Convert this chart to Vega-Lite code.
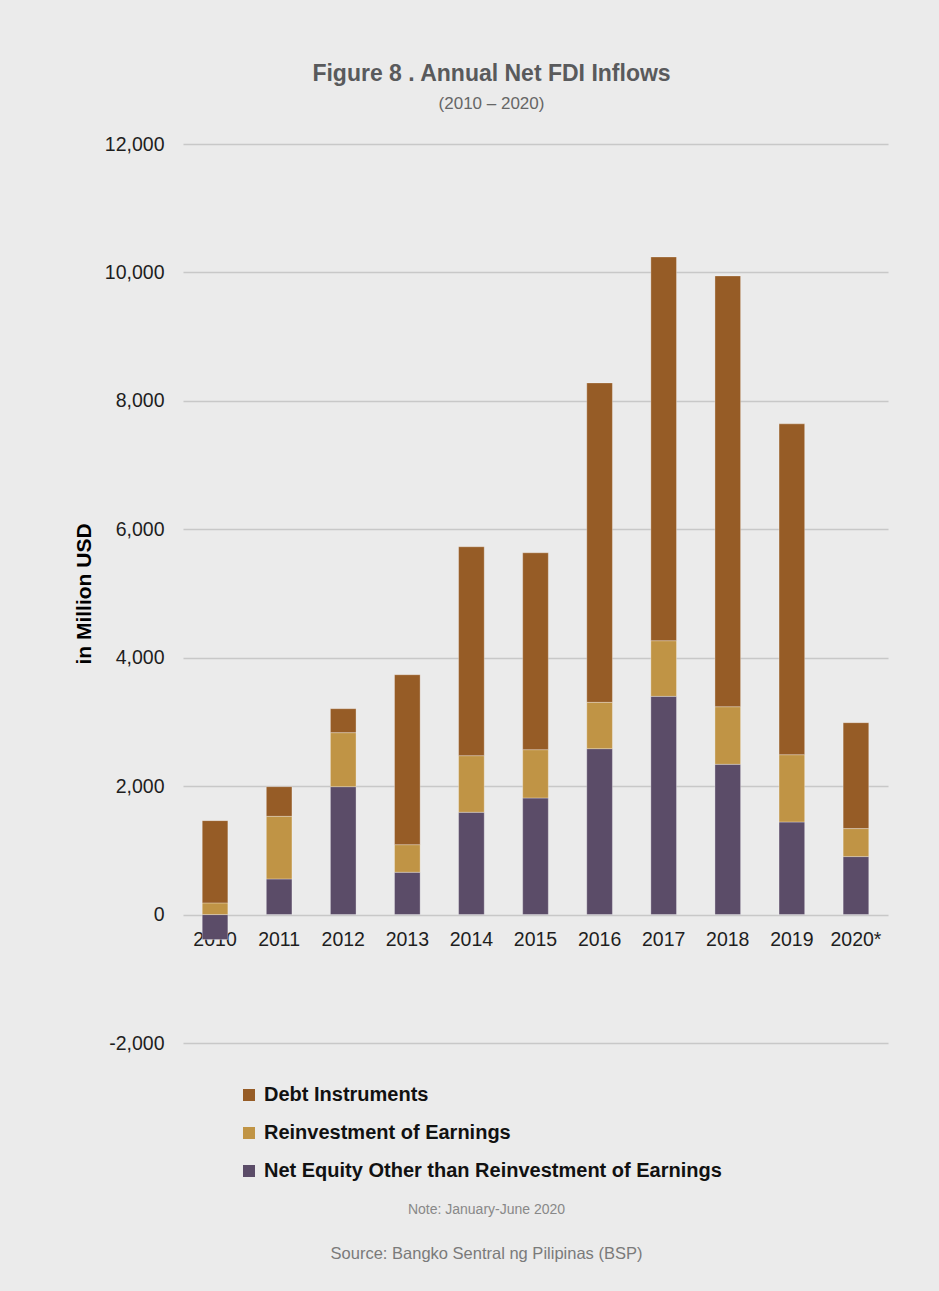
{
  "$schema": "https://vega.github.io/schema/vega-lite/v6.json",
  "background": "#ebebeb",
  "padding": {"left": 73, "top": 63, "right": 56, "bottom": 34},
  "config": {"view": {"stroke": null}},
  "spacing": 149,
  "vconcat": [
    {
      "width": 705,
      "height": 899,
      "title": {
        "text": "Figure 8 .  Annual Net FDI Inflows",
        "subtitle": "(2010 – 2020)",
        "font": "Liberation Sans, Arial, sans-serif",
        "fontSize": 23,
        "fontWeight": "bold",
        "color": "#595a5c",
        "subtitleFont": "Liberation Sans, Arial, sans-serif",
        "subtitleFontSize": 17,
        "subtitleColor": "#666666",
        "subtitlePadding": 10,
        "anchor": "middle",
        "frame": "group",
        "dx": -44,
        "offset": 22
      },
      "data": {
        "values": [
          {"year": "2010", "component": "Net Equity Other than Reinvestment of Earnings", "value": -389},
          {"year": "2010", "component": "Reinvestment of Earnings", "value": 182},
          {"year": "2010", "component": "Debt Instruments", "value": 1281},
          {"year": "2011", "component": "Net Equity Other than Reinvestment of Earnings", "value": 555},
          {"year": "2011", "component": "Reinvestment of Earnings", "value": 975},
          {"year": "2011", "component": "Debt Instruments", "value": 462},
          {"year": "2012", "component": "Net Equity Other than Reinvestment of Earnings", "value": 1992},
          {"year": "2012", "component": "Reinvestment of Earnings", "value": 841},
          {"year": "2012", "component": "Debt Instruments", "value": 373},
          {"year": "2013", "component": "Net Equity Other than Reinvestment of Earnings", "value": 659},
          {"year": "2013", "component": "Reinvestment of Earnings", "value": 430},
          {"year": "2013", "component": "Debt Instruments", "value": 2646},
          {"year": "2014", "component": "Net Equity Other than Reinvestment of Earnings", "value": 1593},
          {"year": "2014", "component": "Reinvestment of Earnings", "value": 882},
          {"year": "2014", "component": "Debt Instruments", "value": 3253},
          {"year": "2015", "component": "Net Equity Other than Reinvestment of Earnings", "value": 1816},
          {"year": "2015", "component": "Reinvestment of Earnings", "value": 752},
          {"year": "2015", "component": "Debt Instruments", "value": 3066},
          {"year": "2016", "component": "Net Equity Other than Reinvestment of Earnings", "value": 2584},
          {"year": "2016", "component": "Reinvestment of Earnings", "value": 721},
          {"year": "2016", "component": "Debt Instruments", "value": 4975},
          {"year": "2017", "component": "Net Equity Other than Reinvestment of Earnings", "value": 3398},
          {"year": "2017", "component": "Reinvestment of Earnings", "value": 867},
          {"year": "2017", "component": "Debt Instruments", "value": 5976},
          {"year": "2018", "component": "Net Equity Other than Reinvestment of Earnings", "value": 2340},
          {"year": "2018", "component": "Reinvestment of Earnings", "value": 897},
          {"year": "2018", "component": "Debt Instruments", "value": 6709},
          {"year": "2019", "component": "Net Equity Other than Reinvestment of Earnings", "value": 1442},
          {"year": "2019", "component": "Reinvestment of Earnings", "value": 1048},
          {"year": "2019", "component": "Debt Instruments", "value": 5152},
          {"year": "2020*", "component": "Net Equity Other than Reinvestment of Earnings", "value": 903},
          {"year": "2020*", "component": "Reinvestment of Earnings", "value": 436},
          {"year": "2020*", "component": "Debt Instruments", "value": 1649}
        ]
      },
      "transform": [
        {"calculate": "indexof(['Net Equity Other than Reinvestment of Earnings', 'Reinvestment of Earnings', 'Debt Instruments'], datum.component)", "as": "stackIdx"}
      ],
      "mark": {"type": "bar", "stroke": "#ffffff", "strokeOpacity": 0.3, "strokeWidth": 1},
      "encoding": {
        "x": {
          "field": "year",
          "type": "ordinal",
          "sort": null,
          "scale": {"paddingInner": 0.6, "paddingOuter": 0.3},
          "axis": {
            "title": null,
            "labelAngle": 0,
            "domain": false,
            "ticks": false,
            "offset": -128,
            "labelPadding": 15,
            "labelFont": "Liberation Sans, Arial, sans-serif",
            "labelFontSize": 19.5,
            "labelColor": "#1e1e1e"
          }
        },
        "y": {
          "field": "value",
          "type": "quantitative",
          "stack": "zero",
          "scale": {"domain": [-2000, 12000], "nice": false, "zero": false},
          "axis": {
            "title": "in Million USD",
            "values": [-2000, 0, 2000, 4000, 6000, 8000, 10000, 12000],
            "format": ",d",
            "labelExpr": "replace(datum.label, '−', '-')",
            "domain": false,
            "ticks": false,
            "labelPadding": 19,
            "labelFont": "Liberation Sans, Arial, sans-serif",
            "labelFontSize": 19.5,
            "labelColor": "#1e1e1e",
            "titlePadding": 10,
            "titleFont": "Liberation Sans, Arial, sans-serif",
            "titleFontSize": 21,
            "titleFontWeight": "bold",
            "titleColor": "#000000",
            "gridColor": "#c8c8c8",
            "gridWidth": 1.5
          }
        },
        "color": {
          "field": "component",
          "type": "nominal",
          "sort": ["Debt Instruments", "Reinvestment of Earnings", "Net Equity Other than Reinvestment of Earnings"],
          "scale": {
            "domain": ["Debt Instruments", "Reinvestment of Earnings", "Net Equity Other than Reinvestment of Earnings"],
            "range": ["#965c26", "#c09445", "#5b4c68"]
          },
          "legend": {
            "title": null,
            "orient": "none",
            "legendX": 56,
            "legendY": 941,
            "direction": "vertical",
            "symbolType": "square",
            "symbolSize": 144,
            "symbolStrokeWidth": 0,
            "labelFont": "Liberation Sans, Arial, sans-serif",
            "labelFontSize": 20,
            "labelFontWeight": "bold",
            "labelColor": "#111111",
            "labelOffset": 5,
            "rowPadding": 18,
            "labelLimit": 600
          }
        },
        "order": {"field": "stackIdx", "type": "quantitative", "sort": "ascending"}
      }
    },
    {
      "width": 705,
      "height": 1,
      "data": {"values": []},
      "mark": {"type": "point", "opacity": 0},
      "encoding": {},
      "title": {
        "text": "Note: January-June 2020",
        "subtitle": "Source: Bangko Sentral ng Pilipinas (BSP)",
        "font": "Liberation Sans, Arial, sans-serif",
        "fontSize": 14,
        "fontWeight": "normal",
        "color": "#888888",
        "subtitleFont": "Liberation Sans, Arial, sans-serif",
        "subtitleFontSize": 16.5,
        "subtitleColor": "#7a7a7a",
        "subtitlePadding": 29,
        "anchor": "middle",
        "frame": "group",
        "dx": -49
      }
    }
  ]
}
